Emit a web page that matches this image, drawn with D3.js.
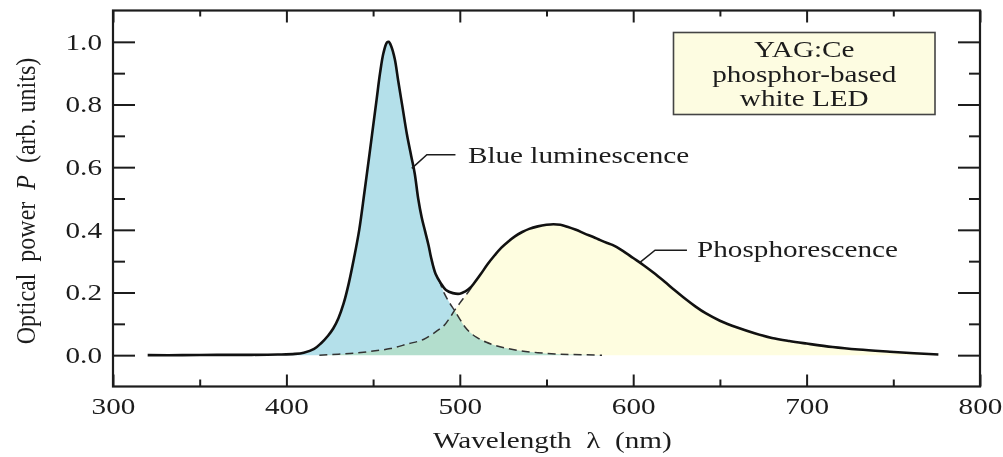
<!DOCTYPE html>
<html>
<head>
<meta charset="utf-8">
<script src="https://cdn.jsdelivr.net/npm/d3@7"></script>
<style>
  body { margin: 0; background: #fff; }
  svg { display: block; }
</style>
</head>
<body>
<div id="box"></div>
<script>
// data
const totalNm = [320, 340, 360, 380, 395, 405, 410, 416, 420, 424, 427, 430, 433, 436, 439, 442, 445, 448, 450, 452, 454,
  456, 458, 459, 460.5, 462.5, 464.5, 467, 469.5, 472, 474, 476, 478, 480, 482, 483.5, 486, 489, 492, 496, 500, 503,
  506, 508, 512, 516, 520, 524, 528, 532, 536, 540, 545, 550, 554, 558, 562, 567, 572, 577, 581, 585, 588,
  594, 600, 606, 612, 618, 624, 630, 636, 642, 650, 660, 670, 680, 690, 700, 715, 730, 748, 762, 776];
const totalP = [0, 0, 0.001, 0.001, 0.002, 0.004, 0.008, 0.02, 0.038, 0.062, 0.085, 0.118, 0.165, 0.23, 0.31, 0.4, 0.52, 0.645, 0.73, 0.815, 0.9,
  0.965, 0.998, 1.0, 0.985, 0.945, 0.875, 0.79, 0.705, 0.635, 0.58, 0.50, 0.44, 0.395, 0.35, 0.31, 0.26, 0.23, 0.208, 0.198, 0.196, 0.203,
  0.215, 0.228, 0.258, 0.29, 0.318, 0.343, 0.363, 0.38, 0.393, 0.403, 0.411, 0.416, 0.418, 0.416, 0.41, 0.40, 0.388, 0.377, 0.367, 0.358, 0.352,
  0.333, 0.31, 0.287, 0.262, 0.235, 0.207, 0.18, 0.155, 0.133, 0.11, 0.088, 0.07, 0.055, 0.045, 0.037, 0.026, 0.018, 0.011, 0.006, 0.002];

// blue luminescence tail (dashed) and phosphorescence head (dashed)
const blueTailNm = [488, 491, 494, 497, 500, 503, 506, 510, 515, 520, 527, 535, 545, 555, 565, 582];
const blueTailP = [0.24, 0.198, 0.168, 0.142, 0.115, 0.09, 0.072, 0.056, 0.042, 0.032, 0.022, 0.014, 0.008, 0.004, 0.002, 0];
const phosHeadNm = [419, 430, 440, 450, 460, 470, 479, 487, 491, 494, 497, 500, 503, 506, 508];
const phosHeadP = [0, 0.003, 0.007, 0.013, 0.021, 0.036, 0.05, 0.078, 0.095, 0.117, 0.143, 0.166, 0.188, 0.21, 0.228];

const xMajor = [300, 400, 500, 600, 700, 800];
const xMinor = [350, 450, 550, 650, 750];
const yMajor = [0, 0.2, 0.4, 0.6, 0.8, 1.0];
const yMinor = [0.1, 0.3, 0.5, 0.7, 0.9];

const boxLines = ['YAG:Ce', 'phosphor-based', 'white LED'];
const xTitle = 'Wavelength\u00a0\u00a0\u03bb\u00a0\u00a0(nm)';

// layout
const width = 1003, height = 457;
const FONT = '"Liberation Serif", "Times New Roman", serif';
const FS = 23;
const SX = 1.27; // picture is stretched sideways
const ink = '#1c1c1c';

const x = d3.scaleLinear().domain([300, 800]).range([113, 980]);
const y = d3.scaleLinear().domain([-0.1, 1.1]).range([386.5, 10.5]);

const svg = d3.select('#box').append('svg')
  .attr('width', width)
  .attr('height', height)
  .attr('viewBox', `0 0 ${width} ${height}`)
  .style('background', '#fff');

const zip = (a, b) => a.map((v, i) => [v, b[i]]);
const total = zip(totalNm, totalP);
const blueTail = zip(blueTailNm, blueTailP);
const phosHead = zip(phosHeadNm, phosHeadP);
const blueAll = total.filter(d => d[0] < blueTailNm[0]).concat(blueTail);
const phosAll = phosHead.concat(total.filter(d => d[0] > phosHeadNm[phosHeadNm.length - 1]));

const curve = d3.curveCatmullRom.alpha(0.5);
const area = d3.area().x(d => x(d[0])).y0(y(0)).y1(d => y(Math.max(0, d[1]))).curve(curve);
const line = d3.line().x(d => x(d[0])).y(d => y(d[1])).curve(curve);

// fills
svg.append('path').attr('d', area(blueAll)).attr('fill', '#b4e0ea');
svg.append('path').attr('d', area(phosAll)).attr('fill', '#fefde0')
  .style('mix-blend-mode', 'multiply');

// dashed components
svg.selectAll('.dash').data([blueTail, phosHead])
  .join('path')
  .attr('class', 'dash')
  .attr('d', line)
  .attr('fill', 'none')
  .attr('stroke', '#333')
  .attr('stroke-width', 1.5)
  .attr('stroke-dasharray', '8,5');

// total spectrum
svg.append('path').attr('d', line(total))
  .attr('fill', 'none')
  .attr('stroke', '#111')
  .attr('stroke-width', 2.6);

// axes (ticks pointing inward)
function styleAxis(g) {
  g.select('.domain').remove();
  g.selectAll('line').attr('stroke', ink).attr('stroke-width', 2);
  g.selectAll('text').attr('fill', ink).attr('font-family', FONT).attr('font-size', FS);
}
const yBot = y.range()[0], yTop = y.range()[1];
const xLeft = x.range()[0], xRight = x.range()[1];

svg.append('g').attr('transform', `translate(0,${yBot})`)
  .call(d3.axisBottom(x).tickValues(xMajor).tickSize(-12).tickPadding(11).tickFormat(d3.format('d')))
  .call(styleAxis)
  .call(g => g.selectAll('text').attr('transform', `scale(${SX},1)`));
svg.append('g').attr('transform', `translate(0,${yBot})`)
  .call(d3.axisBottom(x).tickValues(xMinor).tickSize(-7).tickFormat(''))
  .call(styleAxis);
svg.append('g').attr('transform', `translate(0,${yTop})`)
  .call(d3.axisTop(x).tickValues(xMajor).tickSize(-12).tickFormat(''))
  .call(styleAxis);
svg.append('g').attr('transform', `translate(0,${yTop})`)
  .call(d3.axisTop(x).tickValues(xMinor).tickSize(-6).tickFormat(''))
  .call(styleAxis);

svg.append('g').attr('transform', `translate(${xLeft},0)`)
  .call(d3.axisLeft(y).tickValues(yMajor).tickSize(-22).tickPadding(11 / SX).tickFormat(d3.format('.1f')))
  .call(styleAxis)
  .call(g => g.selectAll('text').attr('transform', `scale(${SX},1)`));
svg.append('g').attr('transform', `translate(${xLeft},0)`)
  .call(d3.axisLeft(y).tickValues(yMinor).tickSize(-12).tickFormat(''))
  .call(styleAxis);
svg.append('g').attr('transform', `translate(${xRight},0)`)
  .call(d3.axisRight(y).tickValues(yMajor).tickSize(-22).tickFormat(''))
  .call(styleAxis);
svg.append('g').attr('transform', `translate(${xRight},0)`)
  .call(d3.axisRight(y).tickValues(yMinor).tickSize(-11).tickFormat(''))
  .call(styleAxis);

// frame
svg.append('rect')
  .attr('x', xLeft).attr('y', yTop)
  .attr('width', xRight - xLeft).attr('height', yBot - yTop)
  .attr('fill', 'none').attr('stroke', ink).attr('stroke-width', 2.2);

// text helper, stretched sideways like the picture
function label(px, py, txt, anchor) {
  return svg.append('text')
    .attr('transform', `translate(${px},${py}) scale(${SX},1)`)
    .attr('text-anchor', anchor || 'start')
    .attr('font-family', FONT)
    .attr('font-size', FS)
    .attr('fill', ink)
    .text(txt);
}

// axis titles
label(433, 448, xTitle);
const yt = svg.append('text')
  .attr('transform', 'translate(35,201) rotate(-90) scale(1,1.18)')
  .attr('text-anchor', 'middle')
  .attr('font-family', FONT)
  .attr('font-size', 24)
  .attr('fill', ink);
yt.append('tspan').text('Optical\u00a0\u00a0power\u00a0\u00a0');
yt.append('tspan').attr('font-style', 'italic').text('P');
yt.append('tspan').text('\u00a0\u00a0(arb.\u00a0units)');

// annotations with leader lines
const leader = d3.line().x(d => x(d[0])).y(d => y(d[1]));
svg.append('path').attr('d', leader([[472.3, 0.596], [481, 0.64], [497.5, 0.64]]))
  .attr('fill', 'none').attr('stroke', ink).attr('stroke-width', 1.5);
label(x(504.7), y(0.612), 'Blue luminescence');

svg.append('path').attr('d', leader([[603.9, 0.296], [612.6, 0.335], [631, 0.335]]))
  .attr('fill', 'none').attr('stroke', ink).attr('stroke-width', 1.5);
label(x(636.8), y(0.314), 'Phosphorescence');

// legend box
const bx0 = 673.5, bx1 = 935, by0 = 32.5, by1 = 114.5;
svg.append('rect')
  .attr('x', bx0).attr('y', by0)
  .attr('width', bx1 - bx0).attr('height', by1 - by0)
  .attr('fill', '#fdfce1')
  .attr('stroke', '#444')
  .attr('stroke-width', 1.6);
boxLines.forEach((t, i) => label((bx0 + bx1) / 2, 57 + i * 24.5, t, 'middle'));
</script>
</body>
</html>
